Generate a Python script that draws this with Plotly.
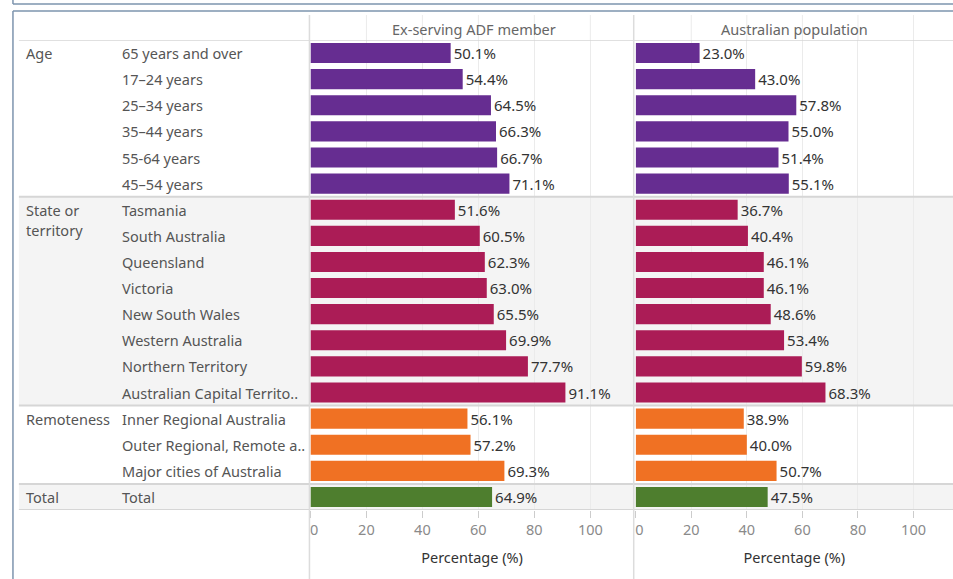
import plotly.graph_objects as go

W, H = 953, 579

# ── data ─────────────────────────────────────────────────────────────────────
groups = [["Age"], ["State or", "territory"], ["Remoteness"], ["Total"]]
group_sizes = [6, 8, 3, 1]

labels = [
    "65 years and over", "17–24 years", "25–34 years", "35–44 years",
    "55-64 years", "45–54 years",
    "Tasmania", "South Australia", "Queensland", "Victoria",
    "New South Wales", "Western Australia", "Northern Territory",
    "Australian Capital Territo..",
    "Inner Regional Australia", "Outer Regional, Remote a..",
    "Major cities of Australia",
    "Total",
]
adf_member = [50.1, 54.4, 64.5, 66.3, 66.7, 71.1,
              51.6, 60.5, 62.3, 63.0, 65.5, 69.9, 77.7, 91.1,
              56.1, 57.2, 69.3,
              64.9]
aus_population = [23.0, 43.0, 57.8, 55.0, 51.4, 55.1,
                  36.7, 40.4, 46.1, 46.1, 48.6, 53.4, 59.8, 68.3,
                  38.9, 40.0, 50.7,
                  47.5]
panels = ["Ex-serving ADF member", "Australian population"]
tick_values = [0, 20, 40, 60, 80, 100]
tick_text = ["\u00a0\u00a00", "20", "40", "60", "80", "100"]
group_colors = ["#662d91", "#ab1c56", "#f07123", "#4e7e2e"]

# ── helpers ──────────────────────────────────────────────────────────────────
def px(x):
    return x / W


def py(y):
    return 1 - y / H


bar_colors = []
for c, n in zip(group_colors, group_sizes):
    bar_colors += [c] * n

FONT = "Noto Sans"
FS = 14.5      # row / header labels
FS_VAL = 15    # value labels at bar ends
fig = go.Figure()

axis_ids = ["x", "x2"]
for i, vals in enumerate([adf_member, aus_population]):
    fig.add_trace(go.Bar(
        x=vals, y=labels, orientation="h",
        marker=dict(color=bar_colors, line=dict(width=0)),
        text=[f"{v:.1f}%" for v in vals],
        textposition="outside", cliponaxis=False,
        textfont=dict(size=FS_VAL, color="#333333", family=FONT),
        xaxis=axis_ids[i],
        showlegend=False, hoverinfo="skip",
    ))

# ── section backgrounds and separators ───────────────────────────────────────
shapes = []
starts = [0]
for n in group_sizes:
    starts.append(starts[-1] + n)

for gi in (1, 3):
    shapes.append(dict(type="rect", xref="paper", yref="y", layer="below",
                       x0=px(11), x1=1, y0=starts[gi] - 0.5, y1=starts[gi + 1] - 0.5,
                       fillcolor="#f4f4f4", line=dict(width=0)))
# grid continues through the header row
for xa in axis_ids:
    for t in tick_values[1:]:
        shapes.append(dict(type="line", xref=xa, yref="paper", layer="below",
                           x0=t, x1=t, y0=py(40), y1=py(15),
                           line=dict(color="#ebebeb", width=1)))
for s in starts:
    shapes.append(dict(type="line", xref="paper", yref="y",
                       x0=px(11), x1=1, y0=s - 0.5, y1=s - 0.5,
                       line=dict(color="#d6d6d6", width=2 if s else 1.5)))
for xv in (304, 631):
    shapes.append(dict(type="line", xref="paper", yref="paper",
                       x0=px(xv), x1=px(xv), y0=0, y1=py(15),
                       line=dict(color="#dcdcdc", width=1.5)))
# outer frame
frame = "#7d94ae"
shapes += [
    dict(type="line", xref="paper", yref="paper", x0=px(5), x1=1,
         y0=py(4), y1=py(4), line=dict(color=frame, width=1.5)),
    dict(type="line", xref="paper", yref="paper", x0=px(5), x1=1,
         y0=py(11), y1=py(11), line=dict(color=frame, width=1.5)),
    dict(type="line", xref="paper", yref="paper", x0=px(5), x1=px(5),
         y0=0, y1=py(11), line=dict(color=frame, width=1.5)),
    dict(type="line", xref="paper", yref="paper", x0=px(5), x1=px(5),
         y0=py(4), y1=1, line=dict(color=frame, width=1.5)),
]

# ── row / group labels ───────────────────────────────────────────────────────
ann = []
for lab in labels:
    ann.append(dict(x=px(113), xref="paper", y=lab, yref="y", text=lab,
                    xanchor="left", yanchor="middle", showarrow=False,
                    font=dict(size=FS, color="#555555", family=FONT)))
for lines, s in zip(groups, starts[:-1]):
    for k, line in enumerate(lines):
        ann.append(dict(x=px(16), xref="paper", y=labels[s], yref="y",
                        text=line, xanchor="left", yanchor="middle",
                        yshift=-20 * k, showarrow=False,
                        font=dict(size=FS, color="#555555", family=FONT)))
for p, (x0, x1) in zip(panels, [(305, 632), (632, 953)]):
    ann.append(dict(x=px((x0 + x1) / 2 + 1), xref="paper", y=py(29), yref="paper",
                    text=p, xanchor="center", yanchor="middle", showarrow=False,
                    font=dict(size=FS, color="#666666", family=FONT)))

axis_common = dict(
    tickvals=tick_values, ticktext=tick_text,
    showgrid=True, gridcolor="#ebebeb",
    gridwidth=1, zeroline=False, showline=False,
    ticks="outside", ticklen=7, tickcolor="#cccccc",
    tickfont=dict(size=FS, color="#8a8a8a", family=FONT),
    title=dict(text="Percentage (%)", standoff=14,
               font=dict(size=FS, color="#333333", family=FONT)),
    fixedrange=True,
)

fig.update_layout(
    width=W, height=H, autosize=False,
    margin=dict(l=0, r=0, t=0, b=0),
    paper_bgcolor="white", plot_bgcolor="rgba(0,0,0,0)",
    bargap=0.23,
    font=dict(family=FONT),
    xaxis=dict(domain=[px(305), px(631)], range=[0, 115.5], anchor="y", **axis_common),
    xaxis2=dict(domain=[px(633), 1], range=[0, 114.2], anchor="y", **axis_common),
    yaxis=dict(domain=[py(510), py(40)], categoryorder="array",
               categoryarray=labels, range=[len(labels) - 0.5, -0.5],
               showticklabels=False, showgrid=False, zeroline=False,
               ticks="", fixedrange=True),
    shapes=shapes,
    annotations=ann,
)

fig.write_html("out.html",
               config={"displayModeBar": False, "staticPlot": True},
               post_script="document.body.style.margin='0';"
                           "document.body.style.overflow='hidden';")
